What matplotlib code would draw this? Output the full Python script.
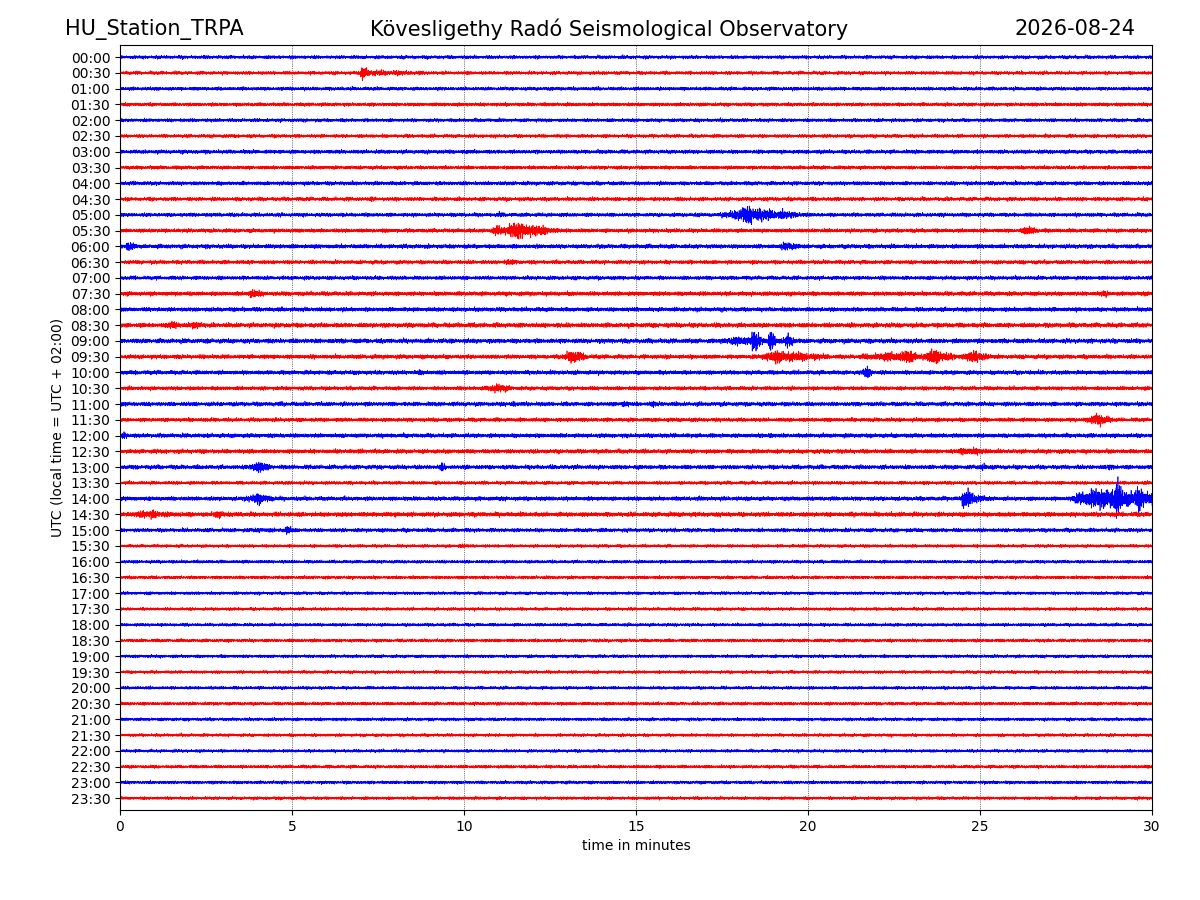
import numpy as np
import matplotlib
matplotlib.use("Agg")
import matplotlib.pyplot as plt

# --- chart values -------------------------------------------------------
station = "HU_Station_TRPA"
observatory = "Kövesligethy Radó Seismological Observatory"
day = "2026-08-24"

row_labels = [f"{h:02d}:{m:02d}" for h in range(24) for m in (0, 30)]
row_colors = ["blue", "red"] * 24

# background noise level per row (in units of row spacing)
noise_level = [0.10, 0.10, 0.10, 0.10, 0.10, 0.10, 0.11, 0.10,
               0.11, 0.11, 0.11, 0.11, 0.12, 0.11, 0.11, 0.12,
               0.12, 0.13, 0.13, 0.12, 0.12, 0.11, 0.12, 0.11,
               0.12, 0.12, 0.12, 0.10, 0.12, 0.13, 0.11, 0.09,
               0.09, 0.09, 0.09, 0.09, 0.09, 0.09, 0.09, 0.09,
               0.09, 0.09, 0.09, 0.09, 0.09, 0.09, 0.09, 0.09]

# events: row label, start, peak, end (minutes), peak amplitude (row spacings)
ev_row = ["00:30", "00:30", "04:30", "05:00", "05:00", "05:00", "05:00", "05:30",
          "05:30", "05:30", "06:00", "06:00", "06:30", "07:30", "07:30", "08:00",
          "08:00", "08:30", "08:30", "09:00", "09:00", "09:00", "09:00", "09:00",
          "09:30", "09:30", "09:30", "09:30", "09:30", "09:30", "10:00", "10:00",
          "10:30", "11:00", "11:00", "11:00", "11:30", "12:00", "12:00", "12:30",
          "12:30", "13:00", "13:00", "13:00", "13:00", "14:00", "14:00", "14:00",
          "14:00", "14:00", "14:00", "14:00", "14:30", "14:30", "14:30", "14:30",
          "15:00", "15:00", "15:30"]
ev_start = [6.98, 7.05, 7.1, 10.4, 17.2, 18.1, 18.9, 10.6, 11.2, 26.0, 0.15, 19.0, 10.5, 3.6, 28.4, 3.4,
            12.2, 1.3, 2.0, 5.9, 16.9, 18.3, 18.8, 19.3, 12.7, 18.4, 20.5, 22.3, 23.3, 24.3, 8.5, 21.5,
            10.4, 11.2, 14.4, 15.3, 27.8, 0.0, 18.7, 6.8, 24.1, 3.6, 9.2, 24.9, 28.6, 3.2, 24.45, 24.5,
            27.4, 28.6, 28.8, 29.3, 0.0, 0.7, 2.6, 7.8, 3.4, 4.75, 9.7]
ev_peak = [7.03, 7.4, 7.3, 11.0, 18.2, 18.3, 19.2, 11.0, 11.35, 26.4, 0.2, 19.4, 11.4, 3.85, 28.6, 3.6,
           12.4, 1.5, 2.15, 6.2, 18.0, 18.4, 18.9, 19.4, 13.1, 19.0, 22.5, 22.9, 23.6, 24.7, 8.75, 21.7,
           10.9, 11.4, 14.65, 15.5, 28.5, 0.1, 18.9, 7.0, 24.5, 4.0, 9.35, 25.1, 28.8, 4.05, 24.48, 24.6,
           28.3, 28.8, 29.0, 29.6, 0.5, 0.95, 2.9, 8.0, 4.0, 4.85, 9.9]
ev_end = [7.35, 11.5, 7.6, 11.8, 20.6, 18.6, 19.6, 12.0, 13.2, 27.0, 0.6, 20.0, 11.9, 4.4, 28.9, 3.9,
          12.7, 1.9, 2.6, 6.5, 20.8, 18.7, 19.15, 19.7, 13.9, 21.5, 26.0, 23.3, 24.6, 25.7, 9.0, 22.0,
          11.8, 11.7, 15.1, 15.8, 29.0, 0.5, 19.2, 7.2, 26.5, 4.6, 9.6, 25.4, 29.0, 4.8, 25.3, 26.3,
          33.0, 29.0, 29.25, 29.9, 3.9, 1.3, 3.2, 8.2, 6.0, 5.1, 10.3]
ev_amp = [0.60, 0.17, 0.15, 0.15, 0.45, 0.75, 0.35, 0.30, 0.55, 0.28, 0.40, 0.30, 0.18, 0.30, 0.25, 0.15,
          0.15, 0.32, 0.32, 0.15, 0.28, 0.90, 0.80, 0.60, 0.40, 0.38, 0.28, 0.45, 0.48, 0.38, 0.20, 0.42,
          0.28, 0.20, 0.22, 0.22, 0.38, 0.25, 0.20, 0.18, 0.24, 0.38, 0.28, 0.25, 0.25, 0.32, 0.60, 0.22,
          0.62, 0.85, 1.20, 0.80, 0.22, 0.35, 0.30, 0.22, 0.15, 0.38, 0.15]

x_ticks = [0, 5, 10, 15, 20, 25, 30]

# --- drawing -------------------------------------------------------------
n_samples = 9000
t = np.linspace(0, 30, n_samples)
idx = np.arange(n_samples)
freqs = [2.3994, 1.9137, 1.3572, 0.7781, 0.4326]

fig = plt.figure(figsize=(12, 9), dpi=100)
ax = fig.add_axes([0.1, 0.1, 0.86, 0.85])

for i, (label, color) in enumerate(zip(row_labels, row_colors)):
    # envelope: background level plus the events of this row
    env = np.full(n_samples, noise_level[i])
    for r, s, p, e, a in zip(ev_row, ev_start, ev_peak, ev_end, ev_amp):
        if r != label:
            continue
        env = np.maximum(env, np.interp(t, [s, p, e], [0.0, a, 0.0], left=0.0, right=0.0))
    # quasi-periodic wiggle texture that carries the envelope
    ph = 7.31 * (i + 1)
    wiggle = sum(np.sin(idx * f + ph * (k + 1)) for k, f in enumerate(freqs)) / len(freqs)
    wiggle *= 0.8 + 0.2 * np.sin(idx * 0.0131 + ph) * np.sin(idx * 0.0457 + 2 * ph)
    ax.plot(t, i + 1.8 * env * wiggle, color=color, lw=0.5)

ax.set_xlim(0, 30)
ax.set_ylim(len(row_labels) - 0.25, -0.77)
ax.set_yticks(range(len(row_labels)))
ax.set_yticklabels(row_labels)
ax.set_xticks(x_ticks)
ax.grid(axis="x", color="black", linestyle=":", linewidth=0.5)
ax.set_xlabel("time in minutes")
ax.set_ylabel("UTC (local time = UTC + 02:00)")

fig.text(65 / 1200, 1 - 29 / 900, station, fontsize=15, ha="left", va="center")
fig.text(609 / 1200, 1 - 29 / 900, observatory, fontsize=15, ha="center", va="center")
fig.text(1135 / 1200, 1 - 29 / 900, day, fontsize=15, ha="right", va="center")

fig.savefig("out.png", dpi=100)
